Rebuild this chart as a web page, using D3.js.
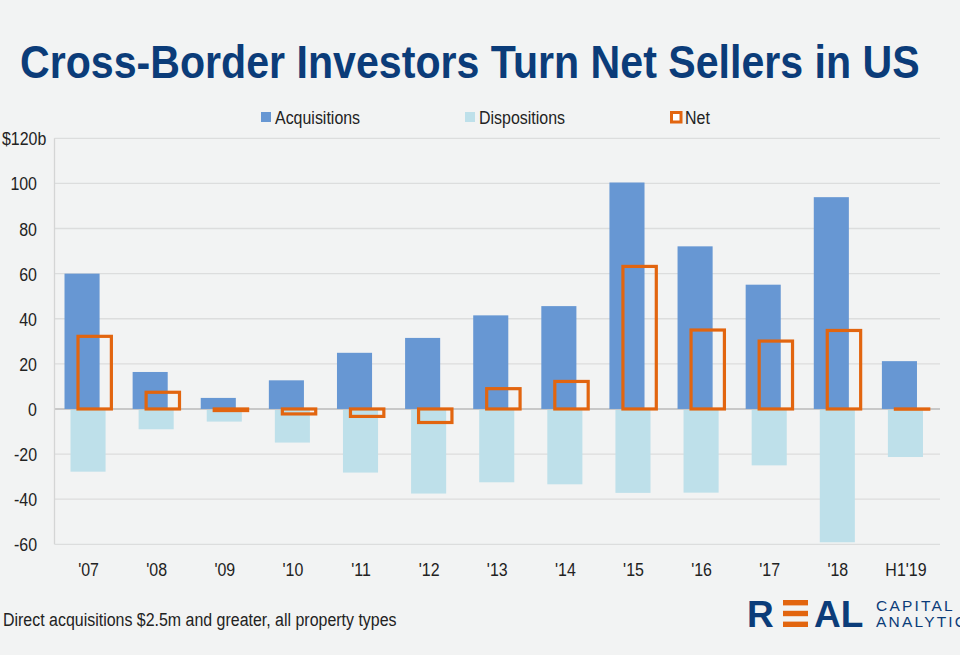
<!DOCTYPE html>
<html>
<head>
<meta charset="utf-8">
<script src="https://cdn.jsdelivr.net/npm/d3@7"></script>
<style>
  html, body { margin: 0; padding: 0; background: #f2f3f3; }
  svg { display: block; }
  text { font-family: "Liberation Sans", Arial, sans-serif; }
</style>
</head>
<body>
<div id="chart"></div>
<script>
// values, $ billions
const years = ["'07", "'08", "'09", "'10", "'11", "'12", "'13", "'14", "'15", "'16", "'17", "'18", "H1'19"];
const acquisitions = [60, 16.4, 4.9, 12.7, 24.9, 31.5, 41.5, 45.6, 100.4, 72.1, 55.1, 93.9, 21.2];
const dispositions = [-27.8, -9, -5.6, -14.9, -28.2, -37.5, -32.5, -33.4, -37.2, -37.1, -25, -59.1, -21.3];
const net = [32.2, 7.4, -0.7, -2.2, -3.3, -6, 9, 12.2, 63.2, 35, 30.1, 34.8, -0.1];
const yTicks = [120, 100, 80, 60, 40, 20, 0, -20, -40, -60];
const legendItems = ["Acquisitions", "Dispositions", "Net"];

const W = 960, H = 655;
const colAcq = "#6797d3", colDisp = "#bee0ea", colNet = "#e2650f", navy = "#0b3c79";
const NARROW = 0.84; // no Arial Narrow here, so squeeze Liberation Sans

const svg = d3.select("#chart").append("svg")
    .attr("width", W)
    .attr("height", H);

svg.append("rect").attr("width", W).attr("height", H).attr("fill", "#f2f3f3");

// title, squeezed to the reference width
const title = svg.append("text")
    .attr("font-size", 46)
    .attr("font-weight", "bold")
    .attr("fill", navy)
    .text("Cross-Border Investors Turn Net Sellers in US");
const tw = title.node().getComputedTextLength();
title.attr("transform", "translate(20,78) scale(" + (900 / tw) + ",1)");

const left = 54.5, right = 940;
const x = d3.scaleBand().domain(years).range([left, right]);
const y = d3.scaleLinear().domain([-60, 120]).range([544.3, 138.3]);
const bw = x.bandwidth();

// gridlines
svg.append("g").selectAll("line")
    .data(yTicks)
    .enter()
    .append("line")
    .attr("x1", left)
    .attr("x2", right)
    .attr("y1", d => y(d))
    .attr("y2", d => y(d))
    .attr("stroke", d => d === 0 ? "#c8c8c8" : "#dcdddd")
    .attr("stroke-width", d => d === 0 ? 2 : 1.3);

svg.append("line")
    .attr("x1", left).attr("x2", left)
    .attr("y1", y(120)).attr("y2", y(-60))
    .attr("stroke", "#d4d5d5")
    .attr("stroke-width", 1.3);

// y labels
svg.append("g").selectAll("text")
    .data(yTicks)
    .enter()
    .append("text")
    .attr("transform", d => "translate(" + (d === 120 ? 2 : 37) + "," + (y(d) + 7) + ") scale(" + NARROW + ",1)")
    .attr("text-anchor", d => d === 120 ? "start" : "end")
    .attr("font-size", 19)
    .attr("fill", "#222")
    .text(d => d === 120 ? "$120b" : d);

// bars
svg.append("g").selectAll("rect")
    .data(acquisitions)
    .enter()
    .append("rect")
    .attr("x", (d, i) => x(years[i]) + bw * 0.147)
    .attr("width", bw * 0.515)
    .attr("y", d => y(d))
    .attr("height", d => y(0) - y(d))
    .attr("fill", colAcq);

svg.append("g").selectAll("rect")
    .data(dispositions)
    .enter()
    .append("rect")
    .attr("x", (d, i) => x(years[i]) + bw * 0.235)
    .attr("width", bw * 0.515)
    .attr("y", y(0) + 1)
    .attr("height", d => y(d) - y(0) - 1)
    .attr("fill", colDisp);

svg.append("g").selectAll("rect")
    .data(net)
    .enter()
    .append("rect")
    .attr("x", (d, i) => x(years[i]) + bw * 0.345)
    .attr("width", bw * 0.49)
    .attr("y", d => Math.min(y(d), y(0)))
    .attr("height", d => Math.abs(y(d) - y(0)))
    .attr("fill", "none")
    .attr("stroke", colNet)
    .attr("stroke-width", 3.2);

// x labels
svg.append("g").selectAll("text")
    .data(years)
    .enter()
    .append("text")
    .attr("transform", d => "translate(" + (x(d) + bw / 2) + ",576) scale(" + NARROW + ",1)")
    .attr("text-anchor", "middle")
    .attr("font-size", 19)
    .attr("fill", "#222")
    .text(d => d);

// legend
const legendX = [261, 465, 670];
const lg = svg.append("g").selectAll("g")
    .data(legendItems)
    .enter()
    .append("g")
    .attr("transform", (d, i) => "translate(" + legendX[i] + ",111)");
lg.append("rect")
    .attr("x", (d, i) => i === 2 ? 1.5 : 0)
    .attr("y", (d, i) => i === 2 ? 1.5 : 1)
    .attr("width", (d, i) => i === 2 ? 9.5 : 10)
    .attr("height", (d, i) => i === 2 ? 9.5 : 10)
    .attr("fill", (d, i) => i === 2 ? "#fff" : (i === 0 ? colAcq : colDisp))
    .attr("stroke", (d, i) => i === 2 ? colNet : "none")
    .attr("stroke-width", 3);
lg.append("text")
    .attr("transform", (d, i) => "translate(" + (i === 2 ? 15 : 14) + ",13) scale(" + NARROW + ",1)")
    .attr("font-size", 19)
    .attr("fill", "#222")
    .text(d => d);

// footnote
svg.append("text")
    .attr("transform", "translate(3,626) scale(" + NARROW + ",1)")
    .attr("font-size", 19)
    .attr("fill", "#222")
    .text("Direct acquisitions $2.5m and greater, all property types");

// logo
const logo = svg.append("g").attr("fill", navy);
logo.append("text").attr("x", 747).attr("y", 627).attr("font-size", 37)
    .attr("font-family", "DejaVu Sans, sans-serif").attr("font-weight", "bold").text("R");
[0, 1, 2].forEach(function(k) {
    logo.append("rect")
        .attr("x", 783).attr("y", 600 + k * 10.8)
        .attr("width", 25).attr("height", 5.4)
        .attr("fill", colNet);
});
logo.append("text").attr("x", 814).attr("y", 627).attr("font-size", 37)
    .attr("font-family", "DejaVu Sans, sans-serif").attr("font-weight", "bold").text("AL");
logo.append("text").attr("x", 876).attr("y", 611).attr("font-size", 15.5)
    .attr("font-family", "DejaVu Sans, sans-serif").attr("letter-spacing", 2.2).text("CAPITAL");
logo.append("text").attr("x", 876).attr("y", 627).attr("font-size", 15.5)
    .attr("font-family", "DejaVu Sans, sans-serif").attr("letter-spacing", 2.2).text("ANALYTICS");
</script>
</body>
</html>
